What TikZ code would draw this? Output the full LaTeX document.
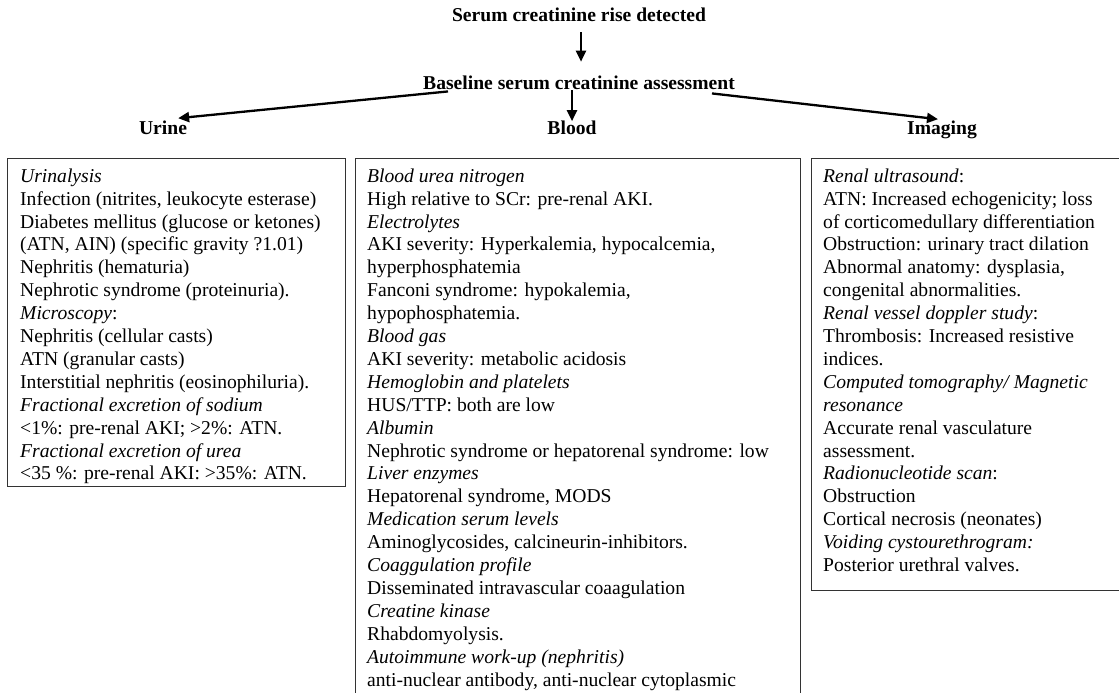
\documentclass[tikz,border=0pt]{standalone}
\usepackage{fontspec}
\setmainfont{Liberation Serif}
\usetikzlibrary{arrows.meta}
\begin{document}
\begin{tikzpicture}[x=1bp,y=-1bp,
  box/.style={draw=black!80, line width=1.2bp, inner sep=0pt, anchor=north west},
  body/.style={font=\fontsize{19.6bp}{22.9bp}\selectfont, align=left, inner sep=0pt, anchor=north west},
  head/.style={font=\fontsize{19.6bp}{22.9bp}\selectfont\bfseries, inner sep=0pt, anchor=base},
  arr/.style={line width=2.3bp, -{Triangle[length=11bp,width=10bp]}}]
\useasboundingbox (0,0) rectangle (1119,693);

% headings
\node[head] (serum) at (579,22) {Serum creatinine rise detected};
\node[head] (base) at (579,90) {Baseline serum creatinine assessment};
\node[head] (urine) at (163,135) {Urine};
\node[head] (blood) at (572,135) {Blood};
\node[head] (imaging) at (942,135) {Imaging};

% boxes
\node[box, minimum width=338bp, minimum height=328bp] (urinebox) at (7,158) {};
\node[box, minimum width=445bp, minimum height=560bp] (bloodbox) at (355,158) {};
\node[box, minimum width=330bp, minimum height=432bp] (imagingbox) at (811,158) {};

% box texts (first baseline at y = 182)
\node[body] (urinetext) at (20,166) {\strut\textit{Urinalysis}\\
Infection (nitrites, leukocyte esterase)\\
Diabetes mellitus (glucose or ketones)\\
(ATN, AIN) (specific gravity ?1.01)\\
Nephritis (hematuria)\\
Nephrotic syndrome (proteinuria).\\
\textit{Microscopy}:\\
Nephritis (cellular casts)\\
ATN (granular casts)\\
Interstitial nephritis (eosinophiluria).\\
\textit{Fractional excretion of sodium}\\
<1\%: pre-renal AKI; >2\%: ATN.\\
\textit{Fractional excretion of urea}\\
<35 \%: pre-renal AKI: >35\%: ATN.};

\node[body] (bloodtext) at (367,166) {\strut\textit{Blood urea nitrogen}\\
High relative to SCr: pre-renal AKI.\\
\textit{Electrolytes}\\
AKI severity: Hyperkalemia, hypocalcemia,\\
hyperphosphatemia\\
Fanconi syndrome: hypokalemia,\\
hypophosphatemia.\\
\textit{Blood gas}\\
AKI severity: metabolic acidosis\\
\textit{Hemoglobin and platelets}\\
HUS/TTP: both are low\\
\textit{Albumin}\\
Nephrotic syndrome or hepatorenal syndrome: low\\
\textit{Liver enzymes}\\
Hepatorenal syndrome, MODS\\
\textit{Medication serum levels}\\
Aminoglycosides, calcineurin-inhibitors.\\
\textit{Coaggulation profile}\\
Disseminated intravascular coaagulation\\
\textit{Creatine kinase}\\
Rhabdomyolysis.\\
\textit{Autoimmune work-up (nephritis)}\\
anti-nuclear antibody, anti-nuclear cytoplasmic};

\node[body] (imagingtext) at (823,166) {\strut\textit{Renal ultrasound}:\\
ATN: Increased echogenicity; loss\\
of corticomedullary differentiation\\
Obstruction: urinary tract dilation\\
Abnormal anatomy: dysplasia,\\
congenital abnormalities.\\
\textit{Renal vessel doppler study}:\\
Thrombosis: Increased resistive\\
indices.\\
\textit{Computed tomography/ Magnetic}\\
\textit{resonance}\\
Accurate renal vasculature\\
assessment.\\
\textit{Radionucleotide scan}:\\
Obstruction\\
Cortical necrosis (neonates)\\
\textit{Voiding cystourethrogram:}\\
Posterior urethral valves.};

% arrows
\draw[arr] ([xshift=2bp,yshift=-10bp]serum.south) -- ([xshift=2bp,yshift=14.5bp]base.north);
\draw[arr] (base.south -| blood.north) -- (blood.north);
\draw[arr] ([xshift=25bp,yshift=-1bp]base.south west) -- ([xshift=-9bp,yshift=3bp]urine.north east);
\draw[arr] ([xshift=-23bp,yshift=-3bp]base.south east) -- ([xshift=-4bp,yshift=2bp]imaging.north);
\end{tikzpicture}
\end{document}
